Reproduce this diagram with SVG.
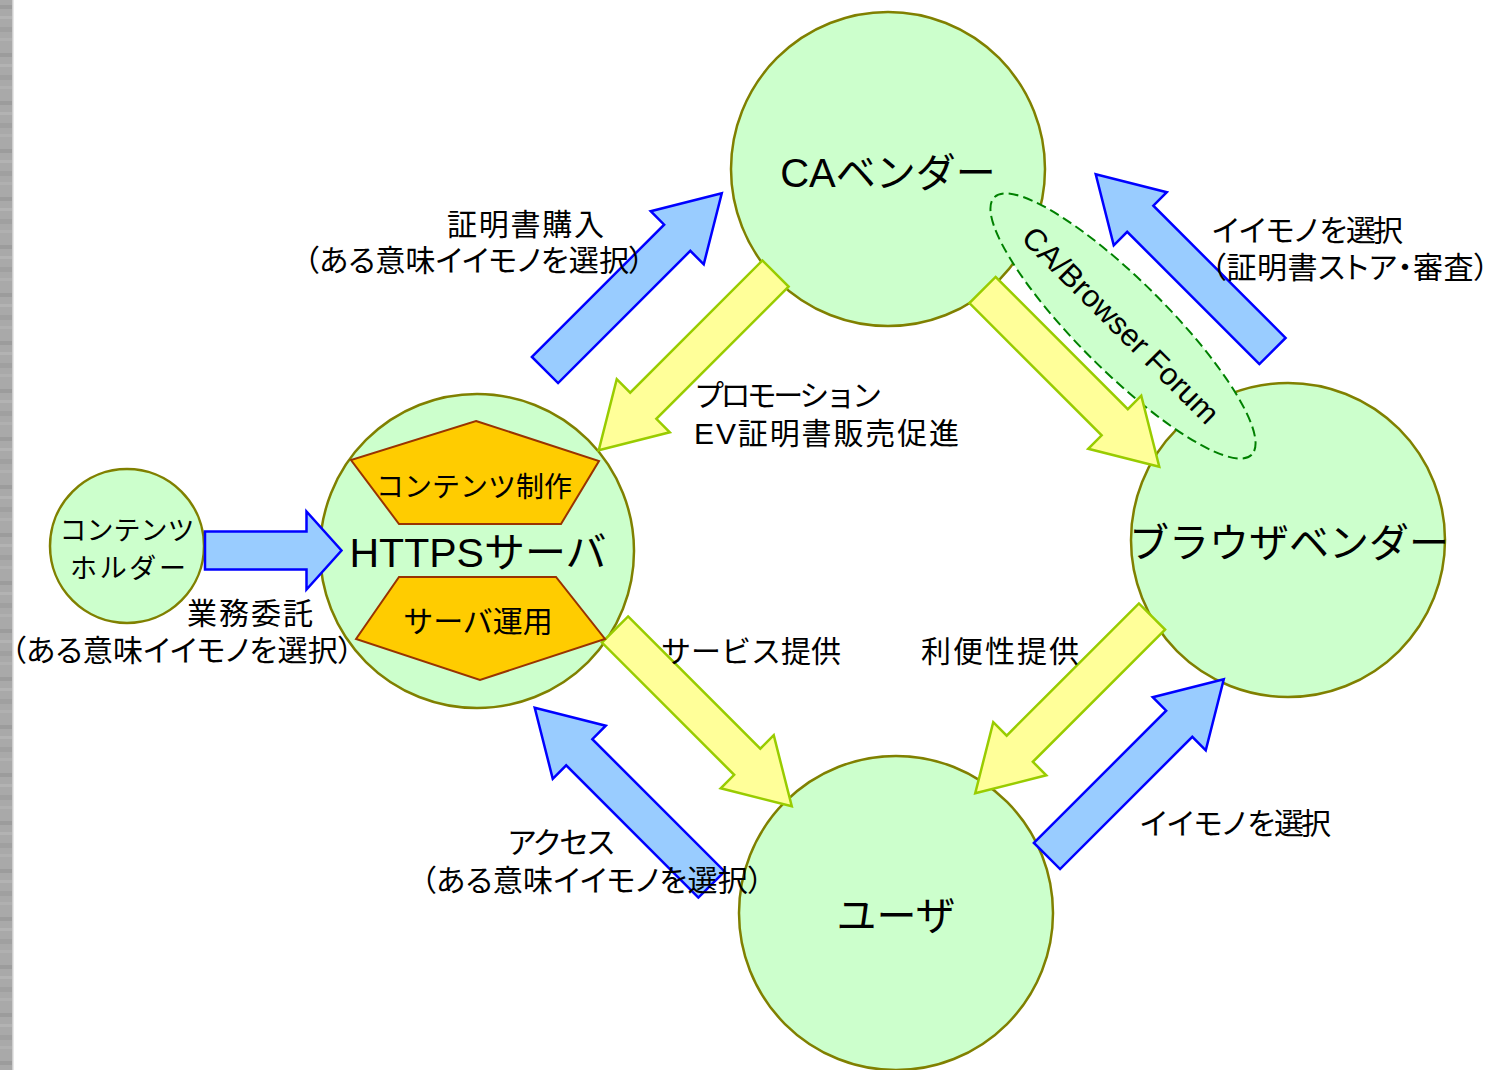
<svg xmlns="http://www.w3.org/2000/svg" width="1490" height="1070" viewBox="0 0 1490 1070">
<style>
  .node { fill: #CCFFCC; stroke: #808000; stroke-width: 2.5; }
  .pent { fill: #FFCC00; stroke: #993300; stroke-width: 2; }
  .blue { fill: #99CCFF; stroke: #0000FF; stroke-width: 2.5; stroke-linejoin: miter; }
  .yellow { fill: #FFFF99; stroke: #99CC00; stroke-width: 2.5; stroke-linejoin: miter; }
  .forum { fill: #CCFFCC; stroke: #008000; stroke-width: 2; stroke-dasharray: 10 5; }
  text { font-family: "Liberation Sans", "Noto Sans CJK JP", sans-serif; fill: #000; }
  .big { font-size: 40px; text-anchor: middle; }
  .lbl { font-size: 30px; }
  .mid { text-anchor: middle; }
  .palt { font-feature-settings: "palt"; }
</style>
<defs>
  <polygon id="arrow" points="0,-18.5 187,-18.5 187,-37.5 250,0 187,37.5 187,18.5 0,18.5"/>
  <pattern id="strip" x="0" y="0" width="12" height="48" patternUnits="userSpaceOnUse">
    <rect width="12" height="48" fill="#A9A9A9"/>
    <rect y="5" width="12" height="4" fill="#9C9C9C"/>
    <rect y="16" width="12" height="3" fill="#B3B3B3"/>
    <rect y="27" width="12" height="5" fill="#A0A0A0"/>
    <rect y="38" width="12" height="3" fill="#B0B0B0"/>
  </pattern>
</defs>
<rect width="1490" height="1070" fill="#FFFFFF"/>
<rect x="0" y="0" width="12" height="1070" fill="url(#strip)"/>
<rect x="12" y="0" width="1.5" height="1070" fill="#CFCFCF"/>

<g id="ca-vendor">
  <circle class="node" cx="888" cy="169" r="157"/>
</g>
<g id="https-server">
  <circle class="node" cx="477" cy="551" r="157"/>
</g>
<g id="browser-vendor">
  <circle class="node" cx="1288" cy="540" r="157"/>
</g>
<g id="user">
  <circle class="node" cx="896" cy="913" r="157"/>
</g>
<g id="content-holder">
  <circle class="node" cx="127" cy="546" r="77"/>
</g>
<g id="cab-forum">
  <ellipse class="forum" cx="1123" cy="326" rx="182" ry="45" transform="rotate(45 1123 326)"/>
</g>

<g id="connectors">
  <use href="#arrow" class="blue" transform="translate(545,370) rotate(-45)"/>
  <use href="#arrow" class="yellow" transform="translate(775.5,273.5) rotate(135)"/>
  <use href="#arrow" class="blue" transform="translate(1272.5,351) rotate(-135)"/>
  <use href="#arrow" class="yellow" transform="translate(982.5,290) rotate(45)"/>
  <use href="#arrow" class="yellow" transform="translate(615,629.5) rotate(45)"/>
  <use href="#arrow" class="yellow" transform="translate(1152,616.5) rotate(135)"/>
  <use href="#arrow" class="blue" transform="translate(1047,856) rotate(-45)"/>
  <use href="#arrow" class="blue" transform="translate(711.5,884.5) rotate(-135)"/>
  <polygon class="blue" points="205,531.5 306.5,531.5 306.5,511.5 341.5,550.5 306.5,589.5 306.5,569.5 205,569.5"/>
</g>

<g id="https-parts">
  <polygon id="content-production" class="pent" points="476,421 599,461 561,524 399,524 351,460"/>
  <polygon id="server-operation" class="pent" points="356,639 399,577 556,577 605,639 480,680"/>
</g>

<g id="node-labels">
  <text class="big" x="888" y="187">CAベンダー</text>
  <text class="big" x="478" y="567" style="font-size:41px">HTTPSサーバ</text>
  <text class="big" x="1289" y="557">ブラウザベンダー</text>
  <text class="big" x="896" y="930">ユーザ</text>
  <text class="mid" x="127" y="540" style="font-size:27px">コンテンツ</text>
  <text class="mid" x="128" y="578" style="font-size:27px" textLength="116" lengthAdjust="spacing">ホルダー</text>
  <text class="mid" x="474" y="497" style="font-size:28px">コンテンツ制作</text>
  <text class="mid" x="478" y="632" style="font-size:30px">サーバ運用</text>
  <text x="1121" y="336" class="mid" style="font-size:31px" transform="rotate(45 1121 325)">CA/Browser Forum</text>
</g>

<g id="edge-labels">
  <text class="lbl mid" x="525.5" y="235" textLength="157" lengthAdjust="spacing">証明書購入</text>
  <text class="lbl mid palt" x="474" y="271" textLength="340" lengthAdjust="spacing">（ある意味イイモノを選択）</text>
  <text class="lbl" x="1211" y="241" textLength="192" lengthAdjust="spacing">イイモノを選択</text>
  <text class="lbl palt" x="1211" y="278" textLength="278" lengthAdjust="spacing">（証明書ストア・審査）</text>
  <text class="lbl" x="694" y="406" textLength="188" lengthAdjust="spacing">プロモーション</text>
  <text class="lbl" x="694" y="444" textLength="265" lengthAdjust="spacing">EV証明書販売促進</text>
  <text class="lbl mid" x="250" y="624" textLength="126" lengthAdjust="spacing">業務委託</text>
  <text class="lbl mid palt" x="182" y="661" textLength="342" lengthAdjust="spacing">（ある意味イイモノを選択）</text>
  <text class="lbl mid" x="751" y="662" textLength="180" lengthAdjust="spacing">サービス提供</text>
  <text class="lbl mid" x="1000" y="662" textLength="158" lengthAdjust="spacing">利便性提供</text>
  <text class="lbl mid" x="1235" y="834" textLength="192" lengthAdjust="spacing">イイモノを選択</text>
  <text class="lbl mid" x="561.5" y="853" textLength="109" lengthAdjust="spacing">アクセス</text>
  <text class="lbl mid palt" x="592" y="891" textLength="342" lengthAdjust="spacing">（ある意味イイモノを選択）</text>
</g>
</svg>
